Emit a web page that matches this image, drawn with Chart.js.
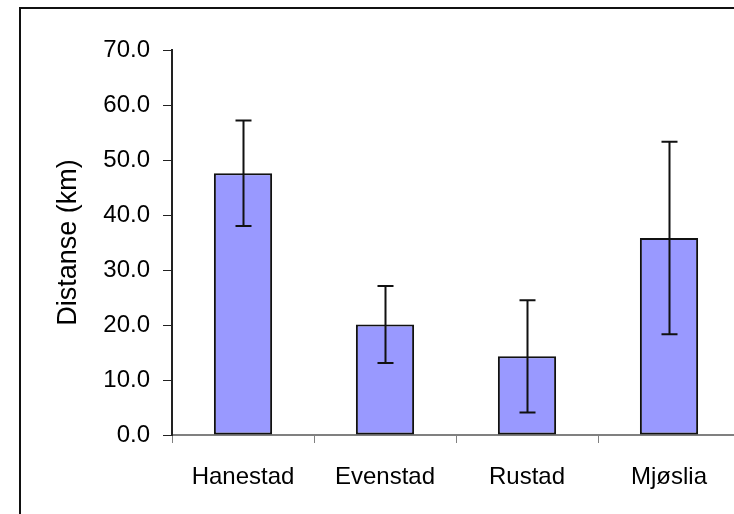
<!DOCTYPE html>
<html>
<head>
<meta charset="utf-8">
<script src="https://cdn.jsdelivr.net/npm/chart.js"></script>
<style>
  html, body { margin: 0; padding: 0; background: #fff; overflow: hidden; }
  #frame {
    position: absolute; left: 19px; top: 7px; width: 900px; height: 700px;
    border-left: 2px solid #111; border-top: 2px solid #111;
  }
  #wrap { position: absolute; left: 0; top: 0; width: 760px; height: 514px; }
</style>
</head>
<body>
<div id="frame"></div>
<div id="wrap"><canvas id="chart"></canvas></div>
<script>
  // Distance per site, with error bars
  var sites = ['Hanestad', 'Evenstad', 'Rustad', 'Mjøslia'];
  var distance = [47.6, 20.1, 14.3, 35.8];
  var errors = [9.6, 7.0, 10.2, 17.5];

  var FONT = 'Liberation Sans, Arial, sans-serif';

  // Draws the +/- error whiskers on top of each bar
  var errorBars = {
    id: 'errorBars',
    afterDatasetsDraw: function(chart) {
      var ctx = chart.ctx;
      var y = chart.scales.y;
      var meta = chart.getDatasetMeta(0);
      ctx.save();
      ctx.strokeStyle = '#111';
      ctx.lineWidth = 2;
      meta.data.forEach(function(bar, i) {
        var top = y.getPixelForValue(distance[i] + errors[i]);
        var bot = y.getPixelForValue(distance[i] - errors[i]);
        var x = Math.round(bar.x) + 0.5;
        ctx.beginPath();
        ctx.moveTo(x, top); ctx.lineTo(x, bot);
        ctx.moveTo(x - 8, top); ctx.lineTo(x + 8, top);
        ctx.moveTo(x - 8, bot); ctx.lineTo(x + 8, bot);
        ctx.stroke();
      });
      ctx.restore();
    }
  };

  new Chart(document.getElementById('chart'), {
    type: 'bar',
    data: {
      labels: sites,
      datasets: [{
        data: distance,
        backgroundColor: '#9999FF',
        borderColor: '#111',
        borderWidth: 2,
        borderSkipped: false,
        categoryPercentage: 1,
        barPercentage: 0.41
      }]
    },
    options: {
      responsive: true,
      maintainAspectRatio: false,
      animation: false,
      layout: { padding: { left: 0, top: 50, right: 20, bottom: 0 } },
      plugins: {
        legend: { display: false },
        tooltip: { enabled: false }
      },
      scales: {
        x: {
          afterFit: function(s) { s.height = 79; },
          grid: { display: true, drawOnChartArea: false, tickLength: 8, color: '#808080', offset: true },
          border: { color: '#808080', width: 2 },
          ticks: { color: '#000', font: { size: 24, family: FONT }, padding: 20, maxRotation: 0 }
        },
        y: {
          min: 0, max: 70,
          afterFit: function(s) { s.width = 172; },
          grid: { drawOnChartArea: false, tickLength: 9, color: '#222' },
          border: { color: '#222', width: 2 },
          ticks: {
            stepSize: 10, color: '#000', padding: 13,
            font: { size: 24, family: FONT },
            callback: function(v) { return v.toFixed(1); }
          },
          title: {
            display: true, text: 'Distanse (km)', color: '#000',
            font: { size: 27, family: FONT }, padding: { top: 52, bottom: 0 }
          }
        }
      }
    },
    plugins: [errorBars]
  });
</script>
</body>
</html>
